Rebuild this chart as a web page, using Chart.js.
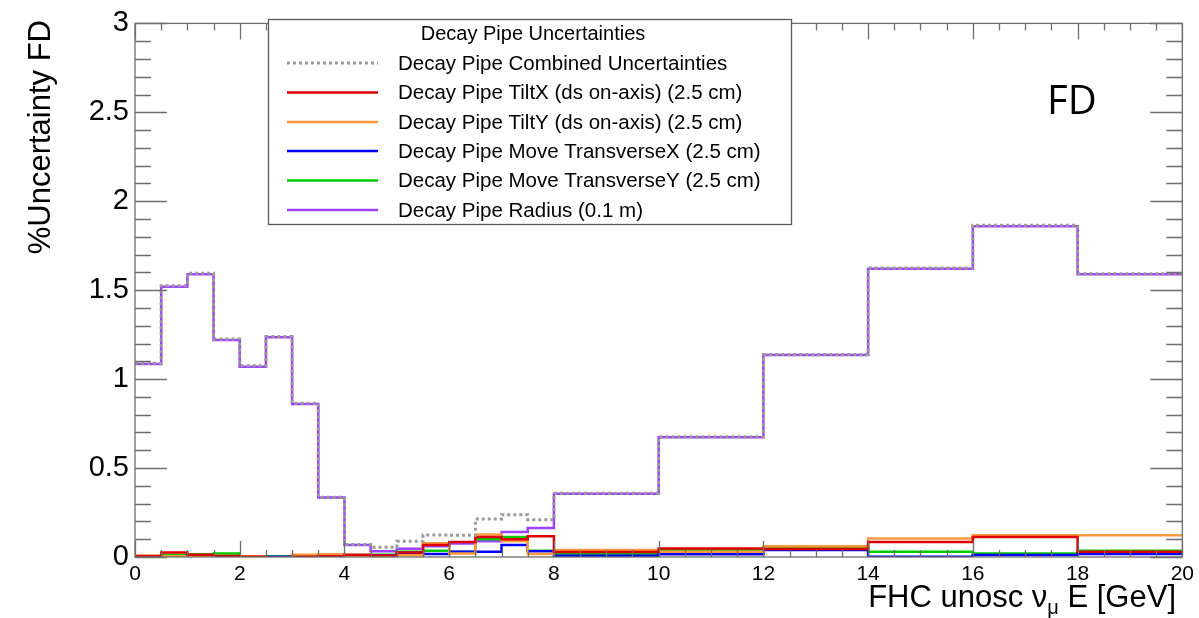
<!DOCTYPE html>
<html>
<head>
<meta charset="utf-8">
<script src="https://cdn.jsdelivr.net/npm/chart.js@4.4.1/dist/chart.umd.min.js"></script>
<style>
  html, body { margin: 0; padding: 0; background: #fff; }
  #wrap { width: 1199px; height: 618px; position: relative; }
</style>
</head>
<body>
<div id="wrap"><canvas id="c" width="1199" height="618"></canvas></div>
<script>
// ---- data ----
const binEdges = [0,0.5,1,1.5,2,2.5,3,3.5,4,4.5,5,5.5,6,6.5,7,7.5,8,10,12,14,16,18,20];

const combined = [1.09,1.525,1.595,1.225,1.075,1.24,0.865,0.336,0.07,0.055,0.088,0.124,0.122,0.213,0.238,0.21,0.358,0.676,1.138,1.625,1.865,1.592];
const tiltX    = [0.004,0.026,0.012,0.005,0.002,-0.005,0.002,0.004,0.012,0.008,0.025,0.068,0.085,0.113,0.1,0.117,0.028,0.048,0.045,0.085,0.113,0.03];
const tiltY    = [0.008,0.004,0.003,0.002,0.004,-0.006,0.013,0.015,0.006,0.003,0.01,0.078,0.02,0.126,0.09,0.017,0.039,0.03,0.061,0.104,0.122,0.122];
const moveX    = [0.001,0.002,-0.002,0.002,0.001,0.001,0.001,0.001,0.002,0.008,0.024,0.017,0.03,0.03,0.067,0.032,0.007,0.015,0.039,0.002,0.011,0.017];
const moveY    = [-0.001,0.011,0.015,0.02,0.003,0.004,0.005,0.005,0.002,0.012,0.03,0.035,0.03,0.1,0.113,0.035,0.017,0.039,0.056,0.03,0.02,0.035];
const radius   = [1.085,1.52,1.59,1.22,1.07,1.235,0.86,0.334,0.068,0.033,0.046,0.06,0.076,0.089,0.14,0.163,0.356,0.673,1.135,1.62,1.86,1.59];

const seriesLabels = [
  "Decay Pipe Combined Uncertainties",
  "Decay Pipe TiltX (ds on-axis) (2.5 cm)",
  "Decay Pipe TiltY (ds on-axis) (2.5 cm)",
  "Decay Pipe Move TransverseX (2.5 cm)",
  "Decay Pipe Move TransverseY (2.5 cm)",
  "Decay Pipe Radius (0.1 m)"
];
const legendTitle = "Decay Pipe Uncertainties";
const yTitle = "%Uncertainty FD";
const xTicks = [0,2,4,6,8,10,12,14,16,18,20];
const yTicks = [0,0.5,1,1.5,2,2.5,3];

// ---- build histogram step points ----
function histPoints(vals) {
  const pts = vals.map((v, i) => ({ x: binEdges[i], y: v }));
  pts.push({ x: binEdges[binEdges.length - 1], y: vals[vals.length - 1] });
  return pts;
}

const FONT = '"Liberation Sans", Arial, Helvetica, sans-serif';

const styles = [
  { color: '#9a9a9a', dash: [3, 3], width: 3 },
  { color: '#dd0000', dash: [], width: 2.5 },
  { color: '#ff9a3c', dash: [], width: 2.5 },
  { color: '#0000ff', dash: [], width: 2.5 },
  { color: '#00cc00', dash: [], width: 2.5 },
  { color: '#a040ff', dash: [], width: 2.5 }
];
const seriesData = [combined, tiltX, tiltY, moveX, moveY, radius];

const datasets = seriesData.map((vals, i) => ({
  label: seriesLabels[i],
  data: histPoints(vals),
  stepped: 'before',
  borderColor: styles[i].color,
  borderWidth: styles[i].width,
  borderDash: styles[i].dash,
  pointRadius: 0,
  fill: false,
  tension: 0
}));

// ---- frame, ticks, titles, legend ----
const rootDecor = {
  id: 'rootDecor',
  afterDatasetsDraw(chart) {
    const ctx = chart.ctx;
    const a = chart.chartArea;
    const xs = chart.scales.x, ys = chart.scales.y;
    ctx.save();
    ctx.strokeStyle = '#6e6e6e';
    ctx.lineWidth = 1.3;
    ctx.setLineDash([]);
    ctx.strokeRect(a.left, a.top, a.right - a.left, a.bottom - a.top);
    ctx.beginPath();
    for (let v = 0; v <= 20.0001; v += 0.5) {
      const px = Math.round(xs.getPixelForValue(v)) + 0.5;
      const major = Math.abs(v / 2 - Math.round(v / 2)) < 1e-6;
      const len = major ? 16 : 7;
      ctx.moveTo(px, a.bottom); ctx.lineTo(px, a.bottom - len);
      ctx.moveTo(px, a.top); ctx.lineTo(px, a.top + len);
    }
    for (let k = 0; k <= 30; k++) {
      const v = k / 10;
      const py = Math.round(ys.getPixelForValue(v)) + 0.5;
      const len = (k % 5 === 0) ? 32 : 16;
      ctx.moveTo(a.left, py); ctx.lineTo(a.left + len, py);
      ctx.moveTo(a.right, py); ctx.lineTo(a.right - len, py);
    }
    ctx.stroke();
    ctx.restore();
  },
  afterDraw(chart) {
    const ctx = chart.ctx;
    ctx.save();
    ctx.fillStyle = '#000';
    ctx.font = '31px ' + FONT;
    ctx.translate(41, 20);
    ctx.rotate(-Math.PI / 2);
    ctx.textAlign = 'right';
    ctx.textBaseline = 'middle';
    ctx.fillText(yTitle, 0, 0);
    ctx.restore();

    ctx.save();
    ctx.fillStyle = '#000';
    const big = '31px ' + FONT, small = '20px ' + FONT;
    const p1 = 'FHC unosc \u03BD', sub = '\u03BC', p2 = ' E [GeV]';
    ctx.font = big; const w1 = ctx.measureText(p1).width, w3 = ctx.measureText(p2).width;
    ctx.font = small; const w2 = ctx.measureText(sub).width;
    const xEnd = 1176, base = 607;
    let x0 = xEnd - (w1 + w2 + w3);
    ctx.textBaseline = 'alphabetic';
    ctx.textAlign = 'left';
    ctx.font = big; ctx.fillText(p1, x0, base);
    ctx.font = small; ctx.fillText(sub, x0 + w1, base + 7);
    ctx.font = big; ctx.fillText(p2, x0 + w1 + w2, base);
    ctx.restore();

    ctx.save();
    ctx.fillStyle = '#000';
    ctx.font = '40px "Open Sans", "Noto Sans", sans-serif';
    ctx.textAlign = 'left';
    ctx.textBaseline = 'alphabetic';
    ctx.fillText('FD', 1047, 114);
    ctx.restore();

    ctx.save();
    const L = 268, T = 19, R = 791, B = 224;
    ctx.fillStyle = '#fff';
    ctx.fillRect(L, T, R - L, B - T);
    ctx.strokeStyle = '#5a5a5a';
    ctx.lineWidth = 1.3;
    ctx.strokeRect(L + 0.5, T + 0.5, R - L, B - T);
    ctx.fillStyle = '#000';
    ctx.font = '20px ' + FONT;
    ctx.textAlign = 'center';
    ctx.textBaseline = 'middle';
    ctx.fillText(legendTitle, 533, 34);
    ctx.textAlign = 'left';
    ctx.font = '20.5px ' + FONT;
    const rows = [63, 92.5, 122, 151, 180.5, 210];
    chart.data.datasets.forEach((ds, i) => {
      const y = rows[i];
      ctx.strokeStyle = ds.borderColor;
      ctx.lineWidth = ds.borderWidth;
      ctx.setLineDash(ds.borderDash || []);
      ctx.beginPath();
      ctx.moveTo(287, y); ctx.lineTo(378, y);
      ctx.stroke();
      ctx.setLineDash([]);
      ctx.fillStyle = '#000';
      ctx.fillText(ds.label, 398, y + 1);
    });
    ctx.restore();
  }
};

new Chart(document.getElementById('c'), {
  type: 'line',
  data: { datasets },
  plugins: [rootDecor],
  options: {
    responsive: false,
    animation: false,
    devicePixelRatio: 1,
    layout: { padding: { top: 18, right: 14, left: 0, bottom: 0 } },
    plugins: { legend: { display: false }, tooltip: { enabled: false } },
    scales: {
      x: {
        type: 'linear', min: 0, max: 20,
        afterBuildTicks: s => { s.ticks = xTicks.map(v => ({ value: v })); },
        afterFit: s => { s.height = 61; },
        ticks: { font: { size: 21, family: FONT }, color: '#000', padding: 5, maxRotation: 0, autoSkip: false,
                 callback: v => String(v) },
        grid: { display: false, drawTicks: false },
        border: { display: false }
      },
      y: {
        type: 'linear', min: 0, max: 3,
        afterBuildTicks: s => { s.ticks = yTicks.map(v => ({ value: v })); },
        afterFit: s => { s.width = 135; },
        ticks: { font: { size: 29, family: FONT }, color: '#000', padding: 6,
                 callback: v => String(v) },
        grid: { display: false, drawTicks: false },
        border: { display: false }
      }
    }
  }
});
</script>
</body>
</html>
